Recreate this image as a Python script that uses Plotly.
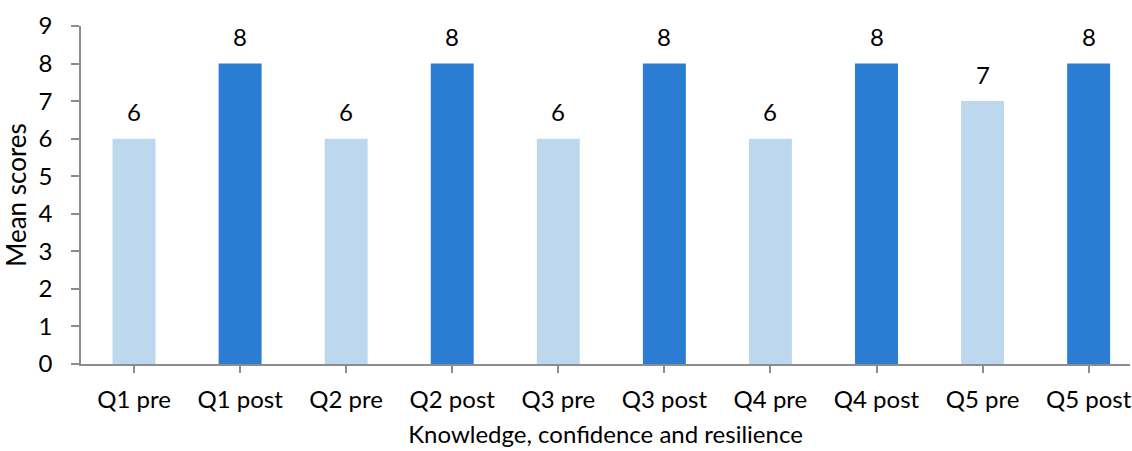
import plotly.graph_objects as go

categories = ["Q1 pre", "Q1 post", "Q2 pre", "Q2 post", "Q3 pre", "Q3 post",
              "Q4 pre", "Q4 post", "Q5 pre", "Q5 post"]
values = [6, 8, 6, 8, 6, 8, 6, 8, 7, 8]
bar_colors = ["#BDD7EE", "#2B7CD3"] * 5
y_ticks = [0, 1, 2, 3, 4, 5, 6, 7, 8, 9]

FONT = "Lato"
AXIS_COLOR = "#8C8C8C"
FS = 24

fig = go.Figure()
fig.add_trace(go.Bar(
    x=list(range(len(categories))), y=values,
    marker=dict(color=bar_colors, line=dict(width=0)),
    width=0.405, hoverinfo="skip",
))

for i, v in enumerate(values):
    fig.add_annotation(x=i, y=v, text=str(v), showarrow=False,
                       yshift=27, yanchor="middle",
                       font=dict(family=FONT, size=FS, color="#000000"))

fig.update_layout(
    width=1132, height=451,
    margin=dict(l=81, r=0, t=26, b=87),
    paper_bgcolor="white", plot_bgcolor="white",
    showlegend=False,
    font=dict(family=FONT, size=FS, color="#000000"),
    xaxis=dict(
        tickmode="array", tickvals=list(range(len(categories))), ticktext=categories,
        range=[-0.5, 9.39], showline=True, linecolor=AXIS_COLOR, linewidth=1.5,
        ticks="outside", tickson="boundaries", ticklen=7, tickcolor=AXIS_COLOR,
        tickwidth=1.5, showgrid=False, zeroline=False,
        tickfont=dict(family=FONT, size=FS), ticklabelstandoff=6,
        ticklabeloverflow="allow",
        title=dict(text="Knowledge, confidence and resilience",
                   font=dict(family=FONT, size=FS), standoff=15),
    ),
    yaxis=dict(
        range=[0, 9], tickmode="array", tickvals=y_ticks,
        showline=True, linecolor=AXIS_COLOR, linewidth=1.5,
        ticks="outside", ticklen=8, tickcolor=AXIS_COLOR, tickwidth=1.5,
        showgrid=False, zeroline=False,
        tickfont=dict(family=FONT, size=FS), ticklabelstandoff=14,
        title=dict(text="Mean scores", font=dict(family=FONT, size=26), standoff=7),
    ),
)

fig.write_html("out.html")
